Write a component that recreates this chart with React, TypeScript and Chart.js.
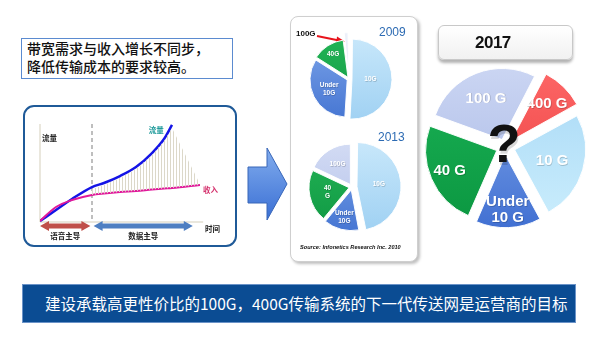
import React, { useEffect, useRef } from "react";
import { Chart, registerables } from "chart.js";
Chart.register(...registerables);

// ---------- trend chart (traffic vs revenue) ----------
const timeSteps = [0, 1, 2, 3.25, 4, 5, 6, 7, 7.75, 8.25, 10];
const trafficValues = [1, 12.2, 23.5, 35.7, 39.8, 46.9, 56.1, 70.4, 84.7, 99, null];
const revenueValues = [1, 15.3, 22.4, 27.6, 29.1, 30.6, 31.6, 33.2, 34.2, 34.7, 37.8];
const gapUpperValues = [null, null, null, 33.7, 37.8, 44.9, 54, 68.4, 82.7, 96, 38.5];
const phaseBoundary = 3.25;
const phaseLabels = ["语音主导", "数据主导"];
const phaseStarts = [0, 3.35];
const phaseEnds = [3.15, 9.55];
const phaseColors = ["#C0504A", "#4F7FC2"];
const seriesLabels = ["流量", "收入"];
const axisLabels = ["流量", "时间"];

// ---------- pies ----------
const sliceNames2009 = ["10G", "Under 10G", "40G", "100G"];
const share2009 = [51, 33, 14, 2];
const sliceText2009 = [["10G"], ["Under", "10G"], ["40G"], []];

const sliceNames2013 = ["10G", "Under 10G", "40G", "100G"];
const share2013 = [47, 14, 21, 18];
const sliceText2013 = [["10G"], ["Under", "10G"], ["40", "G"], ["100G"]];

const sliceNames2017 = ["100 G", "400 G", "10 G", "Under 10 G", "40 G"];
const share2017 = [27, 9.5, 25, 14.5, 24];
const sliceText2017 = [["100 G"], ["400 G"], ["10 G"], ["Under", "10 G"], ["40 G"]];

const CJK = "'Noto Sans CJK SC', 'Noto Sans', sans-serif";

type PieSpec = {
  names: string[];
  values: number[];
  text: string[][];
  colors: [string, string][];
  offsets: number[];
  rotation: number;
  radius: number;
  fracs: number[];
  font: string;
  lineHeight: number;
  question?: boolean;
};

function makePie(canvas: HTMLCanvasElement, s: PieSpec) {
  const labelPlugin = {
    id: "sliceLabels",
    afterDatasetsDraw(chart: any) {
      const ctx = chart.ctx;
      const meta = chart.getDatasetMeta(0);
      ctx.save();
      ctx.textAlign = "center";
      ctx.textBaseline = "middle";
      ctx.font = s.font;
      meta.data.forEach((arc: any, i: number) => {
        const p = arc.getProps(["x", "y", "startAngle", "endAngle", "outerRadius"], true);
        const mid = (p.startAngle + p.endAngle) / 2;
        // Chart.js translates an arc by offset / 4
        const rr = p.outerRadius * s.fracs[i] + s.offsets[i] / 4;
        const cx = p.x + Math.cos(mid) * rr;
        const cy = p.y + Math.sin(mid) * rr;
        const lines = s.text[i];
        const n = lines.length;
        lines.forEach((t, k) => {
          const ty = cy + (k - (n - 1) / 2) * s.lineHeight;
          ctx.fillStyle = "rgba(0,0,0,0.18)";
          ctx.fillText(t, cx + 0.7, ty + 0.7);
          ctx.fillStyle = "#ffffff";
          ctx.fillText(t, cx, ty);
        });
      });
      if (s.question && meta.data.length) {
        const p = meta.data[0].getProps(["x", "y"], true);
        ctx.font = "bold 54px Arial, 'Liberation Sans', sans-serif";
        ctx.fillStyle = "rgba(0,0,0,0.15)";
        ctx.fillText("?", p.x, p.y + 3);
        ctx.fillStyle = "#111111";
        ctx.fillText("?", p.x - 1, p.y);
      }
      ctx.restore();
    },
  };
  return new Chart(canvas, {
    type: "pie",
    data: {
      labels: s.names,
      datasets: [
        {
          data: s.values,
          backgroundColor: (c: any) => {
            const i = c.dataIndex;
            if (i === undefined) return "#cccccc";
            const area = c.chart.chartArea;
            if (!area) return s.colors[i][0];
            const g = c.chart.ctx.createLinearGradient(0, area.top, 0, area.bottom);
            g.addColorStop(0, s.colors[i][0]);
            g.addColorStop(1, s.colors[i][1]);
            return g;
          },
          borderColor: "rgba(255,255,255,0.95)",
          borderWidth: 1,
          offset: s.offsets,
          radius: s.radius,
        } as any,
      ],
    },
    options: {
      responsive: false,
      animation: false,
      events: [],
      rotation: s.rotation,
      layout: { padding: 0 },
      plugins: { legend: { display: false }, tooltip: { enabled: false } },
    } as any,
    plugins: [labelPlugin],
  });
}

function doubleArrow(ctx: CanvasRenderingContext2D, xa: number, xb: number, yc: number, color: string) {
  const hl = 9, hh = 5, bh = 2.6;
  ctx.fillStyle = color;
  ctx.beginPath();
  ctx.moveTo(xa, yc);
  ctx.lineTo(xa + hl, yc - hh);
  ctx.lineTo(xa + hl, yc - bh);
  ctx.lineTo(xb - hl, yc - bh);
  ctx.lineTo(xb - hl, yc - hh);
  ctx.lineTo(xb, yc);
  ctx.lineTo(xb - hl, yc + hh);
  ctx.lineTo(xb - hl, yc + bh);
  ctx.lineTo(xa + hl, yc + bh);
  ctx.lineTo(xa + hl, yc + hh);
  ctx.closePath();
  ctx.fill();
}

function makeTrend(canvas: HTMLCanvasElement) {
  const pc = document.createElement("canvas");
  pc.width = 3;
  pc.height = 2;
  const pctx = pc.getContext("2d")!;
  pctx.fillStyle = "#DCD8C9";
  pctx.fillRect(0, 0, 1, 2);
  const pattern = canvas.getContext("2d")!.createPattern(pc, "repeat");

  const decor = {
    id: "trendDecor",
    beforeDatasetsDraw(chart: any) {
      const { ctx, scales } = chart;
      const x = scales.x, y = scales.y;
      const x0 = x.getPixelForValue(0);
      const y0 = y.getPixelForValue(0);
      const yTop = y.getPixelForValue(100);
      ctx.save();
      ctx.strokeStyle = "#E4E0D2";
      ctx.lineWidth = 1.5;
      ctx.beginPath();
      ctx.moveTo(x0, y0);
      ctx.lineTo(x0, yTop);
      ctx.moveTo(x0, y0);
      ctx.lineTo(x.getPixelForValue(10.2), y0);
      ctx.stroke();
      const xb = x.getPixelForValue(phaseBoundary);
      ctx.strokeStyle = "#A9A9A9";
      ctx.setLineDash([4, 3]);
      ctx.beginPath();
      ctx.moveTo(xb, yTop);
      ctx.lineTo(xb, y0);
      ctx.stroke();
      ctx.restore();
    },
    afterDatasetsDraw(chart: any) {
      const { ctx, scales } = chart;
      const x = scales.x, y = scales.y;
      const x0 = x.getPixelForValue(0);
      const y0 = y.getPixelForValue(0);
      const yTop = y.getPixelForValue(100);
      ctx.save();
      for (let i = 0; i < 2; i++) {
        const xa = x.getPixelForValue(phaseStarts[i]);
        const xb = x.getPixelForValue(phaseEnds[i]);
        doubleArrow(ctx, xa, xb, y0 + 4, phaseColors[i]);
        ctx.font = `bold 7.5px ${CJK}`;
        ctx.fillStyle = "#222222";
        ctx.textAlign = "center";
        ctx.textBaseline = "middle";
        ctx.fillText(phaseLabels[i], (xa + xb) / 2, y0 + 14);
      }
      ctx.font = `bold 7.5px ${CJK}`;
      ctx.textAlign = "left";
      ctx.textBaseline = "middle";
      ctx.fillStyle = "#222222";
      ctx.fillText(axisLabels[0], x0 + 2, yTop + 14);
      ctx.fillText(axisLabels[1], x.getPixelForValue(10) + 5, y0 + 7);
      ctx.fillStyle = "#1E9A9A";
      ctx.fillText(seriesLabels[0], x.getPixelForValue(6.8), yTop + 6);
      ctx.fillStyle = "#D4306C";
      ctx.fillText(seriesLabels[1], x.getPixelForValue(10) + 3, y.getPixelForValue(revenueValues[revenueValues.length - 1]) + 5);
      ctx.restore();
    },
  };

  return new Chart(canvas, {
    type: "line",
    data: {
      labels: timeSteps,
      datasets: [
        {
          label: "gap",
          data: timeSteps.map((t, i) => ({ x: t, y: gapUpperValues[i] })),
          borderWidth: 0,
          borderColor: "rgba(0,0,0,0)",
          pointRadius: 0,
          fill: { target: 1 },
          backgroundColor: pattern as any,
          tension: 0,
        },
        {
          label: seriesLabels[1],
          data: timeSteps.map((t, i) => ({ x: t, y: revenueValues[i] })),
          borderColor: "#E0189A",
          borderWidth: 2,
          pointRadius: 0,
          cubicInterpolationMode: "monotone",
          fill: false,
        },
        {
          label: seriesLabels[0],
          data: timeSteps.map((t, i) => ({ x: t, y: trafficValues[i] })),
          borderColor: "#1414E6",
          borderWidth: 2.5,
          pointRadius: 0,
          cubicInterpolationMode: "monotone",
          fill: false,
        },
      ],
    } as any,
    options: {
      responsive: false,
      animation: false,
      events: [],
      layout: { padding: { left: 17, right: 37, top: 19, bottom: 25 } },
      scales: {
        x: { type: "linear", min: 0, max: 10, display: false },
        y: { min: 0, max: 100, display: false },
      },
      plugins: { legend: { display: false }, tooltip: { enabled: false } },
    } as any,
    plugins: [decor],
  });
}

const abs = (l: number, t: number, w: number, h: number): React.CSSProperties => ({
  position: "absolute",
  left: l,
  top: t,
  width: w,
  height: h,
  boxSizing: "border-box",
});

export default function App() {
  const trendRef = useRef<HTMLCanvasElement>(null);
  const p09Ref = useRef<HTMLCanvasElement>(null);
  const p13Ref = useRef<HTMLCanvasElement>(null);
  const p17Ref = useRef<HTMLCanvasElement>(null);

  useEffect(() => {
    const charts: Chart[] = [];
    charts.push(makeTrend(trendRef.current!));
    charts.push(
      makePie(p09Ref.current!, {
        names: sliceNames2009,
        values: share2009,
        text: sliceText2009,
        colors: [
          ["#CBE9FB", "#9CCFF2"],
          ["#80A7EA", "#3F70D0"],
          ["#25B657", "#0E9642"],
          ["#EEF2FA", "#D6DFF3"],
        ],
        offsets: [12, 8, 8, 20],
        rotation: 0,
        radius: 37,
        fracs: [0.5, 0.55, 0.75, 0.6],
        font: "bold 6.5px Arial, 'Liberation Sans', sans-serif",
        lineHeight: 8,
      })
    );
    charts.push(
      makePie(p13Ref.current!, {
        names: sliceNames2013,
        values: share2013,
        text: sliceText2013,
        colors: [
          ["#CBE9FB", "#9CCFF2"],
          ["#80A7EA", "#3F70D0"],
          ["#25B657", "#0E9642"],
          ["#D6DEF5", "#B2C0E9"],
        ],
        offsets: [20, 12, 12, 12],
        rotation: 0,
        radius: 40,
        fracs: [0.55, 0.7, 0.55, 0.6],
        font: "bold 6.5px Arial, 'Liberation Sans', sans-serif",
        lineHeight: 8,
      })
    );
    charts.push(
      makePie(p17Ref.current!, {
        names: sliceNames2017,
        values: share2017,
        text: sliceText2017,
        colors: [
          ["#CED8F4", "#A7B7E5"],
          ["#FF6B6B", "#E83A3A"],
          ["#A6D7F5", "#CDEFFD"],
          ["#8AAEEC", "#3A6AD0"],
          ["#1BB357", "#0A953F"],
        ],
        offsets: [32, 36, 40, 32, 36],
        rotation: -70,
        radius: 71,
        fracs: [0.62, 0.72, 0.55, 0.78, 0.72],
        font: "bold 15px Arial, 'Liberation Sans', sans-serif",
        lineHeight: 16,
        question: true,
      })
    );
    return () => charts.forEach((c) => c.destroy());
  }, []);

  return (
    <div style={{ position: "absolute", left: 0, top: 0, width: 600, height: 337, background: "#ffffff", overflow: "hidden" }}>
      {/* top statement */}
      <div
        style={{
          ...abs(21, 38, 212, 41),
          border: "1px solid #5B8BD0",
          fontFamily: CJK,
          fontSize: 14,
          lineHeight: "18px",
          paddingLeft: 5,
          color: "#111",
          fontWeight: 500,
          whiteSpace: "nowrap",
        }}
      >
        带宽需求与收入增长不同步，
        <br />
        降低传输成本的要求较高。
      </div>

      {/* trend panel */}
      <div style={{ ...abs(23, 105, 214, 142), border: "2px solid #1F5A98", borderRadius: 11 }} />
      <canvas ref={trendRef} width={214} height={142} style={{ position: "absolute", left: 23, top: 105, width: 214, height: 142 }} />

      {/* middle panel */}
      <div
        style={{
          ...abs(290, 16, 128, 246),
          border: "1px solid #CFCFCF",
          borderRadius: 8,
          boxShadow: "2px 2px 3px rgba(0,0,0,0.25)",
          background: "#fff",
        }}
      />

      <svg width={600} height={337} style={{ position: "absolute", left: 0, top: 0 }}>
        <defs>
          <linearGradient id="bigArrow" x1="0" y1="0" x2="0" y2="1">
            <stop offset="0" stopColor="#82ADEE" />
            <stop offset="1" stopColor="#3A6FD4" />
          </linearGradient>
        </defs>
        <polygon
          points="248,167 267,167 267,148 287,184 267,220 267,203 248,203"
          fill="url(#bigArrow)"
          stroke="#3866B8"
          strokeWidth={1}
        />
        <line x1={317} y1={36} x2={339} y2={40.5} stroke="#E8141C" strokeWidth={2} />
        <polygon points="345,41.5 337,36.5 336,44" fill="#E8141C" />
      </svg>

      <div style={{ position: "absolute", left: 296, top: 29, fontFamily: "Arial, 'Liberation Sans', sans-serif", fontWeight: 700, fontSize: 8, lineHeight: "10px", color: "#111" }}>
        100G
      </div>
      <div style={{ position: "absolute", left: 379, top: 26, fontFamily: "Arial, 'Liberation Sans', sans-serif", fontSize: 12, lineHeight: "13px", color: "#2D6BB3" }}>
        2009
      </div>
      <div style={{ position: "absolute", left: 378, top: 131, fontFamily: "Arial, 'Liberation Sans', sans-serif", fontSize: 12, lineHeight: "13px", color: "#2D6BB3" }}>
        2013
      </div>
      <div
        style={{
          position: "absolute",
          left: 300,
          top: 244,
          fontFamily: "Arial, 'Liberation Sans', sans-serif",
          fontSize: 5.6,
          fontStyle: "italic",
          fontWeight: 700,
          lineHeight: "7px",
          color: "#111",
          whiteSpace: "nowrap",
        }}
      >
        Source: Infonetics  Research Inc. 2010
      </div>

      <canvas ref={p09Ref} width={100} height={100} style={{ position: "absolute", left: 299, top: 29, width: 100, height: 100 }} />
      <canvas ref={p13Ref} width={104} height={104} style={{ position: "absolute", left: 300, top: 135, width: 104, height: 104 }} />

      {/* 2017 */}
      <div
        style={{
          ...abs(438, 25, 135, 35),
          border: "1px solid #C8C8C8",
          borderRadius: 6,
          boxShadow: "0 3px 3px rgba(0,0,0,0.3)",
          background: "linear-gradient(#ffffff, #f1f1f1)",
          fontFamily: "Arial, 'Liberation Sans', sans-serif",
          fontWeight: 700,
          fontSize: 17,
          lineHeight: "33px",
          paddingLeft: 36,
          color: "#111",
          letterSpacing: -0.5,
        }}
      >
        2017
      </div>
      <canvas ref={p17Ref} width={176} height={176} style={{ position: "absolute", left: 417, top: 59, width: 176, height: 176 }} />

      {/* bottom banner */}
      <div
        style={{
          ...abs(22, 284, 554, 39),
          background: "#0B4C93",
          border: "1px solid #6B93C8",
          color: "#fff",
          fontFamily: CJK,
          fontSize: 15.5,
          lineHeight: "37px",
          paddingLeft: 22,
          whiteSpace: "nowrap",
        }}
      >
        建设承载高更性价比的100G，400G传输系统的下一代传送网是运营商的目标
      </div>
    </div>
  );
}
